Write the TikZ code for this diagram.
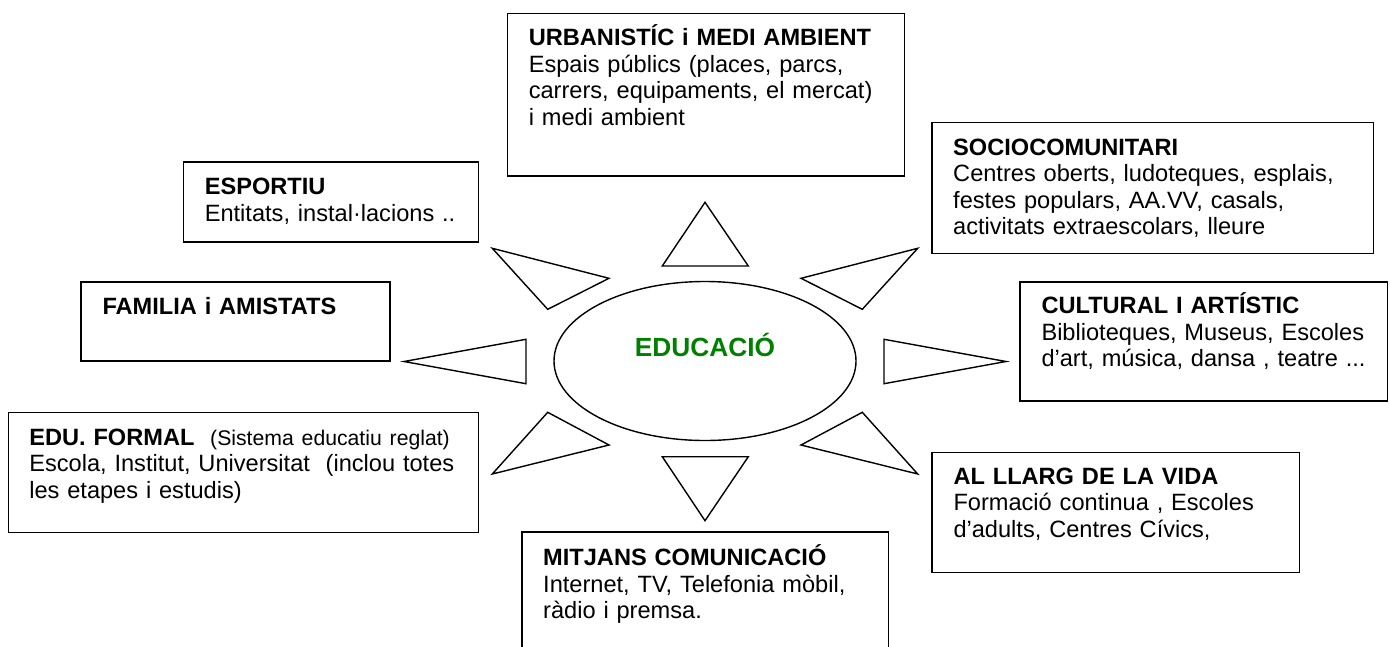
\documentclass[tikz,border=0pt]{standalone}
\usepackage{fontspec}
\setmainfont{Liberation Sans}
\usetikzlibrary{shapes.geometric}
\definecolor{edugreen}{RGB}{0,128,0}
\tikzset{
  box/.style={draw, line width=1.6pt, inner sep=0pt, outer sep=0pt, anchor=north west},
  boxtext/.style={anchor=base west, inner sep=0pt, outer sep=0pt, text width=470pt, align=left,
    font=\fontsize{23.6}{26.5}\selectfont},
  ray/.style={line width=1.4pt, line join=miter},
}
\frenchspacing
\begin{document}
\begin{tikzpicture}[x=1pt,y=-1pt]

\clip (0,0) rectangle (1391,646) ;
\fill[white] (0,0) rectangle (1391,646) ;

\node[draw, ellipse, line width=1.4pt, minimum width=302pt, minimum height=159pt, inner sep=0pt] (edu) at (705,361) {} ;
\node[anchor=base, inner sep=0pt, text=edugreen, font=\fontsize{26.3}{30}\selectfont\bfseries] (edu_txt) at (705,356.7) {EDUCACIÓ} ;

\draw[ray] (705,202.3) -- (662.3,266) -- (748.3,266) -- cycle ;
\draw[ray] (705,520.7) -- (662.3,456.7) -- (748.3,456.7) -- cycle ;
\draw[ray] (404,361.5) -- (526,339.3) -- (526,383.7) -- cycle ;
\draw[ray] (1006,361.5) -- (884,339.3) -- (884,383.7) -- cycle ;
\draw[ray] (492.3,248.3) -- (609,278.3) -- (547.7,309.3) -- cycle ;
\draw[ray] (917.7,248.3) -- (801,278.3) -- (862.3,309.3) -- cycle ;
\draw[ray] (547.7,412.3) -- (609,445) -- (492.3,474) -- cycle ;
\draw[ray] (862.3,412.3) -- (801,445) -- (917.7,474) -- cycle ;

\node[box, minimum width=397, minimum height=162.7] (urb) at (507.3,13.3) {} ;
\node[box, minimum width=441.6, minimum height=131] (soc) at (931.7,122.3) {} ;
\node[box, minimum width=367.3, minimum height=119.3] (cul) at (1020,281.7) {} ;
\node[box, minimum width=367.3, minimum height=120] (vida) at (932,452.3) {} ;
\node[box, minimum width=366.6, minimum height=140] (mit) at (521.7,531.7) {} ;
\node[box, minimum width=295, minimum height=80] (esp) at (183.3,161.7) {} ;
\node[box, minimum width=309, minimum height=79.3] (fam) at (81,281.7) {} ;
\node[box, minimum width=470, minimum height=120] (edf) at (8.3,412.3) {} ;

\node[boxtext] (urb_txt) at ([shift={(21.5,32.5)}]urb.north west)
  {\textbf{URBANISTÍC i MEDI AMBIENT}\\Espais públics (places, parcs,\\carrers, equipaments, el mercat)\\i medi ambient} ;
\node[boxtext] (soc_txt) at ([shift={(21.5,33)}]soc.north west)
  {\textbf{SOCIOCOMUNITARI}\\Centres oberts, ludoteques, esplais,\\festes populars, AA.VV, casals,\\activitats extraescolars, lleure} ;
\node[boxtext] (cul_txt) at ([shift={(21.5,32)}]cul.north west)
  {\textbf{CULTURAL I ARTÍSTIC}\\Biblioteques, Museus, Escoles\\d’art, música, dansa , teatre ...} ;
\node[boxtext] (vida_txt) at ([shift={(21.5,32)}]vida.north west)
  {\textbf{AL LLARG DE LA VIDA}\\Formació continua , Escoles\\d’adults, Centres Cívics,} ;
\node[boxtext] (mit_txt) at ([shift={(21.5,34)}]mit.north west)
  {\textbf{MITJANS COMUNICACIÓ}\\Internet, TV, Telefonia mòbil,\\ràdio i premsa.} ;
\node[boxtext] (esp_txt) at ([shift={(21.5,33)}]esp.north west)
  {\textbf{ESPORTIU}\\Entitats, instal·lacions ..} ;
\node[boxtext] (fam_txt) at ([shift={(21.5,33)}]fam.north west)
  {\textbf{FAMILIA i AMISTATS}} ;
\node[boxtext] (edf_txt) at ([shift={(21,32.7)}]edf.north west)
  {\textbf{EDU. FORMAL}\ \ {\fontsize{21.2}{26.5}\selectfont(Sistema educatiu reglat)}\\Escola, Institut, Universitat\ \ (inclou totes\\les etapes i estudis)} ;

\end{tikzpicture}
\end{document}
